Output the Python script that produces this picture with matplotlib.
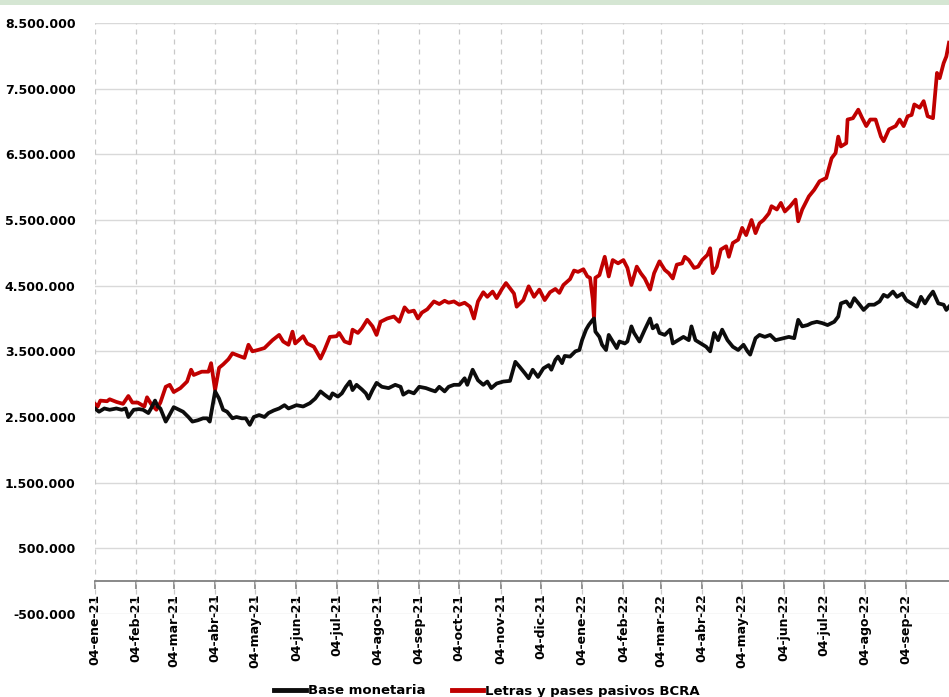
import matplotlib
matplotlib.use("Agg")
import matplotlib.pyplot as plt
import matplotlib.dates as mdates
from matplotlib.patches import Rectangle
from matplotlib.ticker import FuncFormatter, FixedLocator, FixedFormatter
import pandas as pd

# ---------------- data (values in millions) ----------------
letras_dates = [
    "2021-01-04", "2021-01-06", "2021-01-08", "2021-01-13", "2021-01-15", "2021-01-20", "2021-01-25", "2021-01-29",
    "2021-02-01", "2021-02-05", "2021-02-10", "2021-02-12", "2021-02-15", "2021-02-19", "2021-02-22", "2021-02-26",
    "2021-03-01", "2021-03-04", "2021-03-09", "2021-03-14", "2021-03-17", "2021-03-19", "2021-03-25", "2021-03-30",
    "2021-04-01", "2021-04-04", "2021-04-07", "2021-04-10", "2021-04-14", "2021-04-17", "2021-04-22", "2021-04-26",
    "2021-04-29", "2021-05-02", "2021-05-06", "2021-05-11", "2021-05-17", "2021-05-22", "2021-05-25", "2021-05-29",
    "2021-06-01", "2021-06-03", "2021-06-09", "2021-06-12", "2021-06-17", "2021-06-22", "2021-06-25", "2021-06-29",
    "2021-07-04", "2021-07-06", "2021-07-10", "2021-07-14", "2021-07-16", "2021-07-20", "2021-07-23", "2021-07-27",
    "2021-07-31", "2021-08-03", "2021-08-06", "2021-08-11", "2021-08-16", "2021-08-20", "2021-08-24", "2021-08-27",
    "2021-08-31", "2021-09-03", "2021-09-06", "2021-09-10", "2021-09-15", "2021-09-19", "2021-09-23", "2021-09-26",
    "2021-09-30", "2021-10-04", "2021-10-08", "2021-10-12", "2021-10-15", "2021-10-18", "2021-10-22", "2021-10-25",
    "2021-10-29", "2021-11-01", "2021-11-05", "2021-11-08", "2021-11-11", "2021-11-14", "2021-11-16", "2021-11-21",
    "2021-11-25", "2021-11-29", "2021-12-03", "2021-12-07", "2021-12-11", "2021-12-15", "2021-12-18", "2021-12-21",
    "2021-12-26", "2021-12-29", "2022-01-01", "2022-01-05", "2022-01-08", "2022-01-10", "2022-01-12", "2022-01-13",
    "2022-01-14", "2022-01-17", "2022-01-21", "2022-01-24", "2022-01-27", "2022-01-31", "2022-02-04", "2022-02-07",
    "2022-02-10", "2022-02-14", "2022-02-17", "2022-02-20", "2022-02-24", "2022-02-27", "2022-03-03", "2022-03-07",
    "2022-03-10", "2022-03-13", "2022-03-16", "2022-03-20", "2022-03-22", "2022-03-25", "2022-03-29", "2022-04-01",
    "2022-04-04", "2022-04-08", "2022-04-10", "2022-04-12", "2022-04-15", "2022-04-18", "2022-04-22", "2022-04-24",
    "2022-04-27", "2022-05-01", "2022-05-04", "2022-05-07", "2022-05-11", "2022-05-14", "2022-05-17", "2022-05-20",
    "2022-05-24", "2022-05-26", "2022-05-30", "2022-06-02", "2022-06-05", "2022-06-09", "2022-06-13", "2022-06-15",
    "2022-06-18", "2022-06-23", "2022-06-27", "2022-07-01", "2022-07-06", "2022-07-10", "2022-07-13", "2022-07-15",
    "2022-07-17", "2022-07-21", "2022-07-22", "2022-07-26", "2022-07-30", "2022-08-02", "2022-08-05", "2022-08-08",
    "2022-08-12", "2022-08-16", "2022-08-18", "2022-08-22", "2022-08-27", "2022-08-30", "2022-09-02", "2022-09-05",
    "2022-09-08", "2022-09-10", "2022-09-14", "2022-09-17", "2022-09-20", "2022-09-24", "2022-09-27", "2022-09-29",
    "2022-10-02", "2022-10-04", "2022-10-06",
]
letras_values = [
    2.70, 2.66, 2.75, 2.74, 2.77, 2.73, 2.70, 2.82,
    2.72, 2.72, 2.66, 2.80, 2.70, 2.61, 2.72, 2.96,
    2.99, 2.88, 2.94, 3.04, 3.22, 3.14, 3.19, 3.19,
    3.32, 2.91, 3.25, 3.30, 3.38, 3.47, 3.43, 3.40,
    3.60, 3.50, 3.52, 3.55, 3.67, 3.75, 3.65, 3.60,
    3.80, 3.62, 3.73, 3.62, 3.57, 3.39, 3.52, 3.72,
    3.73, 3.78, 3.65, 3.62, 3.83, 3.78, 3.85, 3.98,
    3.88, 3.75, 3.95, 4.00, 4.03, 3.95, 4.17, 4.10,
    4.12, 4.00, 4.09, 4.14, 4.26, 4.22, 4.27, 4.24,
    4.26, 4.21, 4.24, 4.18, 4.00, 4.26, 4.40, 4.33,
    4.41, 4.31, 4.45, 4.54, 4.46, 4.38, 4.18, 4.28,
    4.49, 4.33, 4.44, 4.28, 4.40, 4.45, 4.39, 4.51,
    4.60, 4.73, 4.71, 4.75, 4.64, 4.62, 4.30, 3.98,
    4.62, 4.66, 4.94, 4.64, 4.89, 4.84, 4.89, 4.77,
    4.51, 4.79, 4.69, 4.61, 4.44, 4.69, 4.87, 4.74,
    4.69, 4.61, 4.82, 4.84, 4.94, 4.89, 4.77, 4.79,
    4.89, 4.97, 5.07, 4.69, 4.79, 5.05, 5.10, 4.94,
    5.15, 5.20, 5.38, 5.27, 5.50, 5.30, 5.45, 5.50,
    5.60, 5.71, 5.66, 5.76, 5.63, 5.71, 5.81, 5.48,
    5.66, 5.86, 5.96, 6.09, 6.14, 6.44, 6.52, 6.77,
    6.62, 6.67, 7.03, 7.05, 7.18, 7.05, 6.93, 7.03,
    7.03, 6.77, 6.70, 6.88, 6.93, 7.03, 6.93, 7.08,
    7.10, 7.26, 7.21, 7.31, 7.08, 7.05, 7.74, 7.66,
    7.89, 7.99, 8.20,
]

base_dates = [
    "2021-01-04", "2021-01-07", "2021-01-11", "2021-01-15", "2021-01-20", "2021-01-24", "2021-01-27", "2021-01-29",
    "2021-02-02", "2021-02-06", "2021-02-09", "2021-02-13", "2021-02-15", "2021-02-18", "2021-02-20", "2021-02-22",
    "2021-02-26", "2021-02-28", "2021-03-04", "2021-03-08", "2021-03-11", "2021-03-15", "2021-03-18", "2021-03-22",
    "2021-03-26", "2021-03-29", "2021-03-31", "2021-04-02", "2021-04-04", "2021-04-07", "2021-04-10", "2021-04-13",
    "2021-04-17", "2021-04-20", "2021-04-24", "2021-04-27", "2021-04-30", "2021-05-03", "2021-05-07", "2021-05-11",
    "2021-05-14", "2021-05-18", "2021-05-22", "2021-05-26", "2021-05-29", "2021-06-04", "2021-06-09", "2021-06-14",
    "2021-06-18", "2021-06-22", "2021-06-25", "2021-06-29", "2021-07-01", "2021-07-05", "2021-07-08", "2021-07-11",
    "2021-07-14", "2021-07-16", "2021-07-19", "2021-07-23", "2021-07-26", "2021-07-28", "2021-07-31", "2021-08-03",
    "2021-08-07", "2021-08-12", "2021-08-17", "2021-08-21", "2021-08-23", "2021-08-27", "2021-08-31", "2021-09-04",
    "2021-09-09", "2021-09-13", "2021-09-16", "2021-09-19", "2021-09-23", "2021-09-26", "2021-09-30", "2021-10-04",
    "2021-10-08", "2021-10-10", "2021-10-14", "2021-10-18", "2021-10-22", "2021-10-25", "2021-10-28", "2021-11-01",
    "2021-11-06", "2021-11-11", "2021-11-15", "2021-11-18", "2021-11-22", "2021-11-25", "2021-11-28", "2021-12-02",
    "2021-12-06", "2021-12-10", "2021-12-12", "2021-12-15", "2021-12-17", "2021-12-20", "2021-12-22", "2021-12-26",
    "2021-12-30", "2022-01-02", "2022-01-04", "2022-01-07", "2022-01-09", "2022-01-12", "2022-01-13", "2022-01-14",
    "2022-01-17", "2022-01-19", "2022-01-22", "2022-01-24", "2022-01-27", "2022-01-30", "2022-02-01", "2022-02-05",
    "2022-02-07", "2022-02-10", "2022-02-12", "2022-02-16", "2022-02-20", "2022-02-24", "2022-02-26", "2022-03-01",
    "2022-03-03", "2022-03-07", "2022-03-11", "2022-03-13", "2022-03-17", "2022-03-21", "2022-03-25", "2022-03-27",
    "2022-03-30", "2022-04-03", "2022-04-07", "2022-04-10", "2022-04-13", "2022-04-16", "2022-04-19", "2022-04-23",
    "2022-04-27", "2022-05-01", "2022-05-05", "2022-05-08", "2022-05-10", "2022-05-14", "2022-05-17", "2022-05-21",
    "2022-05-25", "2022-05-29", "2022-06-04", "2022-06-08", "2022-06-12", "2022-06-15", "2022-06-18", "2022-06-22",
    "2022-06-25", "2022-06-29", "2022-07-03", "2022-07-07", "2022-07-12", "2022-07-15", "2022-07-17", "2022-07-21",
    "2022-07-24", "2022-07-27", "2022-07-31", "2022-08-03", "2022-08-07", "2022-08-11", "2022-08-15", "2022-08-18",
    "2022-08-21", "2022-08-25", "2022-08-28", "2022-09-01", "2022-09-04", "2022-09-08", "2022-09-12", "2022-09-15",
    "2022-09-18", "2022-09-21", "2022-09-24", "2022-09-28", "2022-10-02", "2022-10-04", "2022-10-06",
]
base_values = [
    2.63, 2.58, 2.63, 2.61, 2.63, 2.61, 2.63, 2.50,
    2.61, 2.62, 2.61, 2.56, 2.63, 2.75, 2.66, 2.63,
    2.43, 2.50, 2.65, 2.61, 2.58, 2.50, 2.43, 2.45,
    2.48, 2.48, 2.43, 2.66, 2.89, 2.78, 2.61, 2.58,
    2.48, 2.50, 2.48, 2.48, 2.38, 2.50, 2.53, 2.50,
    2.56, 2.60, 2.63, 2.68, 2.63, 2.68, 2.66, 2.71,
    2.78, 2.89, 2.84, 2.78, 2.86, 2.81, 2.86, 2.96,
    3.04, 2.91, 2.99, 2.92, 2.86, 2.78, 2.91, 3.02,
    2.96, 2.94, 2.99, 2.96, 2.84, 2.89, 2.86, 2.96,
    2.94, 2.91, 2.89, 2.96, 2.89, 2.96, 2.99, 2.99,
    3.09, 2.99, 3.22, 3.06, 2.99, 3.04, 2.94, 3.01,
    3.04, 3.05, 3.34, 3.27, 3.17, 3.09, 3.22, 3.11,
    3.24, 3.29, 3.22, 3.37, 3.42, 3.32, 3.43, 3.42,
    3.50, 3.52, 3.67, 3.83, 3.90, 3.98, 4.00, 3.80,
    3.72, 3.60, 3.52, 3.75, 3.65, 3.55, 3.65, 3.62,
    3.65, 3.88, 3.78, 3.65, 3.83, 4.00, 3.85, 3.90,
    3.78, 3.75, 3.83, 3.62, 3.67, 3.72, 3.67, 3.88,
    3.67, 3.62, 3.57, 3.50, 3.78, 3.67, 3.83, 3.67,
    3.57, 3.52, 3.60, 3.50, 3.45, 3.70, 3.75, 3.72,
    3.75, 3.67, 3.70, 3.72, 3.70, 3.98, 3.88, 3.90,
    3.93, 3.95, 3.93, 3.90, 3.95, 4.03, 4.23, 4.26,
    4.18, 4.31, 4.21, 4.13, 4.21, 4.21, 4.26, 4.36,
    4.33, 4.41, 4.33, 4.38, 4.28, 4.23, 4.18, 4.33,
    4.23, 4.33, 4.41, 4.23, 4.21, 4.13, 4.18,
]

tick_dates = [
    "2021-01-04", "2021-02-04", "2021-03-04", "2021-04-04", "2021-05-04", "2021-06-04", "2021-07-04",
    "2021-08-04", "2021-09-04", "2021-10-04", "2021-11-04", "2021-12-04", "2022-01-04", "2022-02-04",
    "2022-03-04", "2022-04-04", "2022-05-04", "2022-06-04", "2022-07-04", "2022-08-04", "2022-09-04",
]
tick_labels = [
    "04-ene-21", "04-feb-21", "04-mar-21", "04-abr-21", "04-may-21", "04-jun-21", "04-jul-21",
    "04-ago-21", "04-sep-21", "04-oct-21", "04-nov-21", "04-dic-21", "04-ene-22", "04-feb-22",
    "04-mar-22", "04-abr-22", "04-may-22", "04-jun-22", "04-jul-22", "04-ago-22", "04-sep-22",
]
y_ticks = [-0.5, 0.5, 1.5, 2.5, 3.5, 4.5, 5.5, 6.5, 7.5, 8.5]
series_names = ["Base monetaria", "Letras y pases pasivos BCRA"]

# ---------------- figure ----------------
plt.rcParams["font.family"] = ["DejaVu Sans"]
fig = plt.figure(figsize=(9.49, 6.97), dpi=100)
fig.patch.set_facecolor("white")
fig.patches.append(Rectangle((0, 1 - 5 / 697), 1, 5 / 697, transform=fig.transFigure,
                             facecolor="#d5e6d3", edgecolor="none", zorder=0))

ax = fig.add_axes([95 / 949, 1 - 614 / 697, 1 - 95 / 949, (614 - 23) / 697])

bx = mdates.date2num(pd.to_datetime(base_dates))
lx = mdates.date2num(pd.to_datetime(letras_dates))
ax.plot(bx, base_values, color="#0d0d0d", lw=2.7, label=series_names[0], zorder=4,
        solid_joinstyle="round")
ax.plot(lx, letras_values, color="#c00000", lw=2.7, label=series_names[1], zorder=3,
        solid_joinstyle="round")

ax.set_ylim(-0.5, 8.5)
ax.set_xlim(mdates.date2num(pd.Timestamp("2021-01-04")), mdates.date2num(pd.Timestamp("2022-10-06")))

# y axis
ax.yaxis.set_major_locator(FixedLocator(y_ticks))
ax.yaxis.set_major_formatter(FuncFormatter(lambda v, p: f"{v * 1e6:,.0f}".replace(",", ".")))
ax.tick_params(axis="y", length=0, pad=14, labelsize=9)
ax.grid(axis="y", color="#d9d9d9", lw=1.0, ls="-", zorder=1)

# x axis
tx = mdates.date2num(pd.to_datetime(tick_dates))
ax.xaxis.set_major_locator(FixedLocator(tx))
ax.xaxis.set_major_formatter(FixedFormatter(tick_labels))
ax.tick_params(axis="x", length=6, width=1.2, color="#7f7f7f", pad=3, direction="out",
               labelrotation=90, labelsize=9)
for t in tx:
    ax.axvline(t, color="#c8c8c8", lw=0.9, ls=(0, (4, 4)), zorder=1)

for s in ["top", "right", "left"]:
    ax.spines[s].set_visible(False)
ax.spines["bottom"].set_position(("data", 0))
ax.spines["bottom"].set_color("#7f7f7f")
ax.spines["bottom"].set_linewidth(1.3)
ax.set_axisbelow(True)

fig.canvas.draw()
for lab in ax.get_xticklabels() + ax.get_yticklabels():
    lab.set_fontweight("bold")
for lab in ax.get_xticklabels():
    lab.set_rotation(90)
    lab.set_va("top")
    lab.set_ha("center")

leg = fig.legend(loc="center", bbox_to_anchor=(487 / 949, 6 / 697), ncol=2, frameon=False,
                 prop={"weight": "bold", "size": 9.5}, handlelength=2.4, handletextpad=0.15,
                 columnspacing=2.0)
for line in leg.get_lines():
    line.set_linewidth(3.5)

fig.savefig("out.png", dpi=100, facecolor="white")
